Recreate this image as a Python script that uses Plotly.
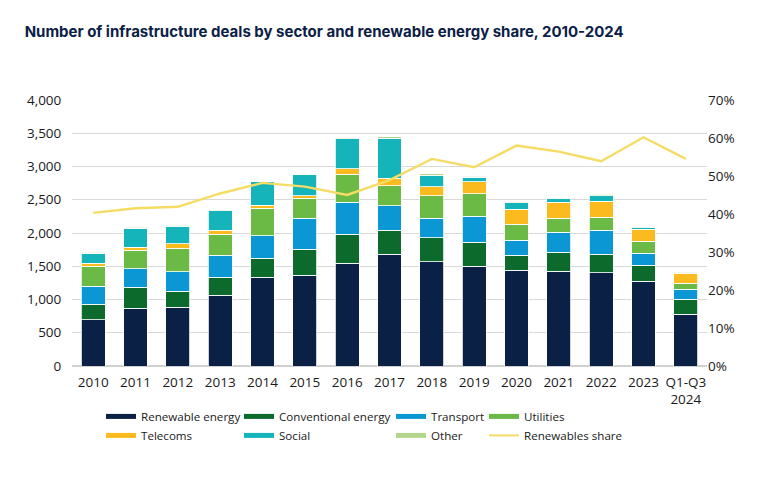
import plotly.graph_objects as go

years = ["2010", "2011", "2012", "2013", "2014", "2015", "2016", "2017",
         "2018", "2019", "2020", "2021", "2022", "2023", "Q1-Q3<br>2024"]

renewable = [692, 867, 882, 1063, 1333, 1364, 1544, 1679, 1569, 1499, 1439, 1424, 1399, 1273, 777]
conventional = [235, 316, 241, 270, 286, 391, 436, 361, 356, 361, 225, 285, 280, 241, 226]
transport = [271, 276, 296, 336, 341, 466, 481, 371, 296, 391, 226, 301, 361, 180, 150]
utilities = [301, 280, 351, 311, 411, 301, 421, 301, 341, 341, 241, 211, 196, 181, 90]
telecoms = [45, 46, 65, 65, 45, 40, 86, 110, 130, 175, 225, 240, 240, 180, 151]
social = [150, 290, 270, 291, 351, 315, 446, 602, 175, 75, 100, 61, 86, 25, 10]
other = [20, 10, 10, 15, 10, 10, 20, 20, 25, 10, 15, 10, 20, 15, 15]
share = [0.403, 0.415, 0.419, 0.454, 0.482, 0.472, 0.450, 0.489, 0.545, 0.523,
         0.580, 0.564, 0.539, 0.602, 0.545]

sectors = [
    ("Renewable energy", renewable, "#0b2045"),
    ("Conventional energy", conventional, "#0b6a2c"),
    ("Transport", transport, "#0b96d4"),
    ("Utilities", utilities, "#6bba45"),
    ("Telecoms", telecoms, "#fbbb1e"),
    ("Social", social, "#14b4ba"),
    ("Other", other, "#b4d68c"),
]
line_col = "#f5dc64"

# legend columns as in the original (4 columns, 2 rows)
legend_of = {"Renewable energy": "legend", "Telecoms": "legend",
             "Conventional energy": "legend2", "Social": "legend2",
             "Transport": "legend3", "Other": "legend3",
             "Utilities": "legend4", "Renewables share": "legend4"}

fig = go.Figure()

for name, vals, col in sectors:
    fig.add_trace(go.Bar(x=years, y=vals, name=name, marker_color=col,
                         marker_line=dict(color="white", width=0.8),
                         showlegend=False, legendgroup=name))

fig.add_trace(go.Scatter(x=years, y=share, yaxis="y2", mode="lines",
                         line=dict(color=line_col, width=2.4),
                         showlegend=False, legendgroup="share"))

# legend entries drawn as short thick lines like the original
order = ["Renewable energy", "Telecoms", "Conventional energy", "Social",
         "Transport", "Other", "Utilities"]
cols = {n: c for n, v, c in sectors}
for name in order:
    fig.add_trace(go.Scatter(x=[None], y=[None], mode="lines", name=name,
                             line=dict(color=cols[name], width=5), legendgroup=name,
                             legend=legend_of[name]))
fig.add_trace(go.Scatter(x=[None], y=[None], mode="lines", name="Renewables share",
                         line=dict(color=line_col, width=2), legendgroup="share",
                         legend="legend4"))

leg = dict(orientation="v", xanchor="left", y=-0.135, yanchor="top",
           font=dict(size=11.6, color="#1a1a1a"), tracegroupgap=0,
           bgcolor="rgba(0,0,0,0)")

fig.update_layout(
    width=770, height=496,
    barmode="stack", bargap=0.44,
    plot_bgcolor="white", paper_bgcolor="white",
    font=dict(family="Open Sans", size=13.5, color="#1a1a1a"),
    title=dict(text="<b>Number of infrastructure deals by sector and renewable energy share, 2010-2024</b>",
               x=0.032, xanchor="left", y=0.935, yanchor="middle",
               font=dict(family="Inter", size=15, color="#0b2045")),
    margin=dict(l=72, r=63, t=100, b=130),
    xaxis=dict(showgrid=False, ticks="", showline=False, ticklabelstandoff=6),
    yaxis=dict(range=[0, 4000], dtick=500, tickformat=",", gridcolor="#d9d9d9",
               gridwidth=1, zeroline=True, zerolinecolor="#d0d0d0",
               ticks="outside", ticklen=7, tickcolor="rgba(0,0,0,0)"),
    yaxis2=dict(range=[0, 0.7], dtick=0.1, tickformat=".0%", overlaying="y",
                side="right", showgrid=False, zeroline=False, ticks=""),
    legend=dict(leg, x=(101 - 72) / 635),
    legend2=dict(leg, x=(239 - 72) / 635),
    legend3=dict(leg, x=(391 - 72) / 635),
    legend4=dict(leg, x=(484 - 72) / 635),
)

fig.write_html("out.html", config={"displayModeBar": False},
               post_script="document.body.style.margin='0';")
